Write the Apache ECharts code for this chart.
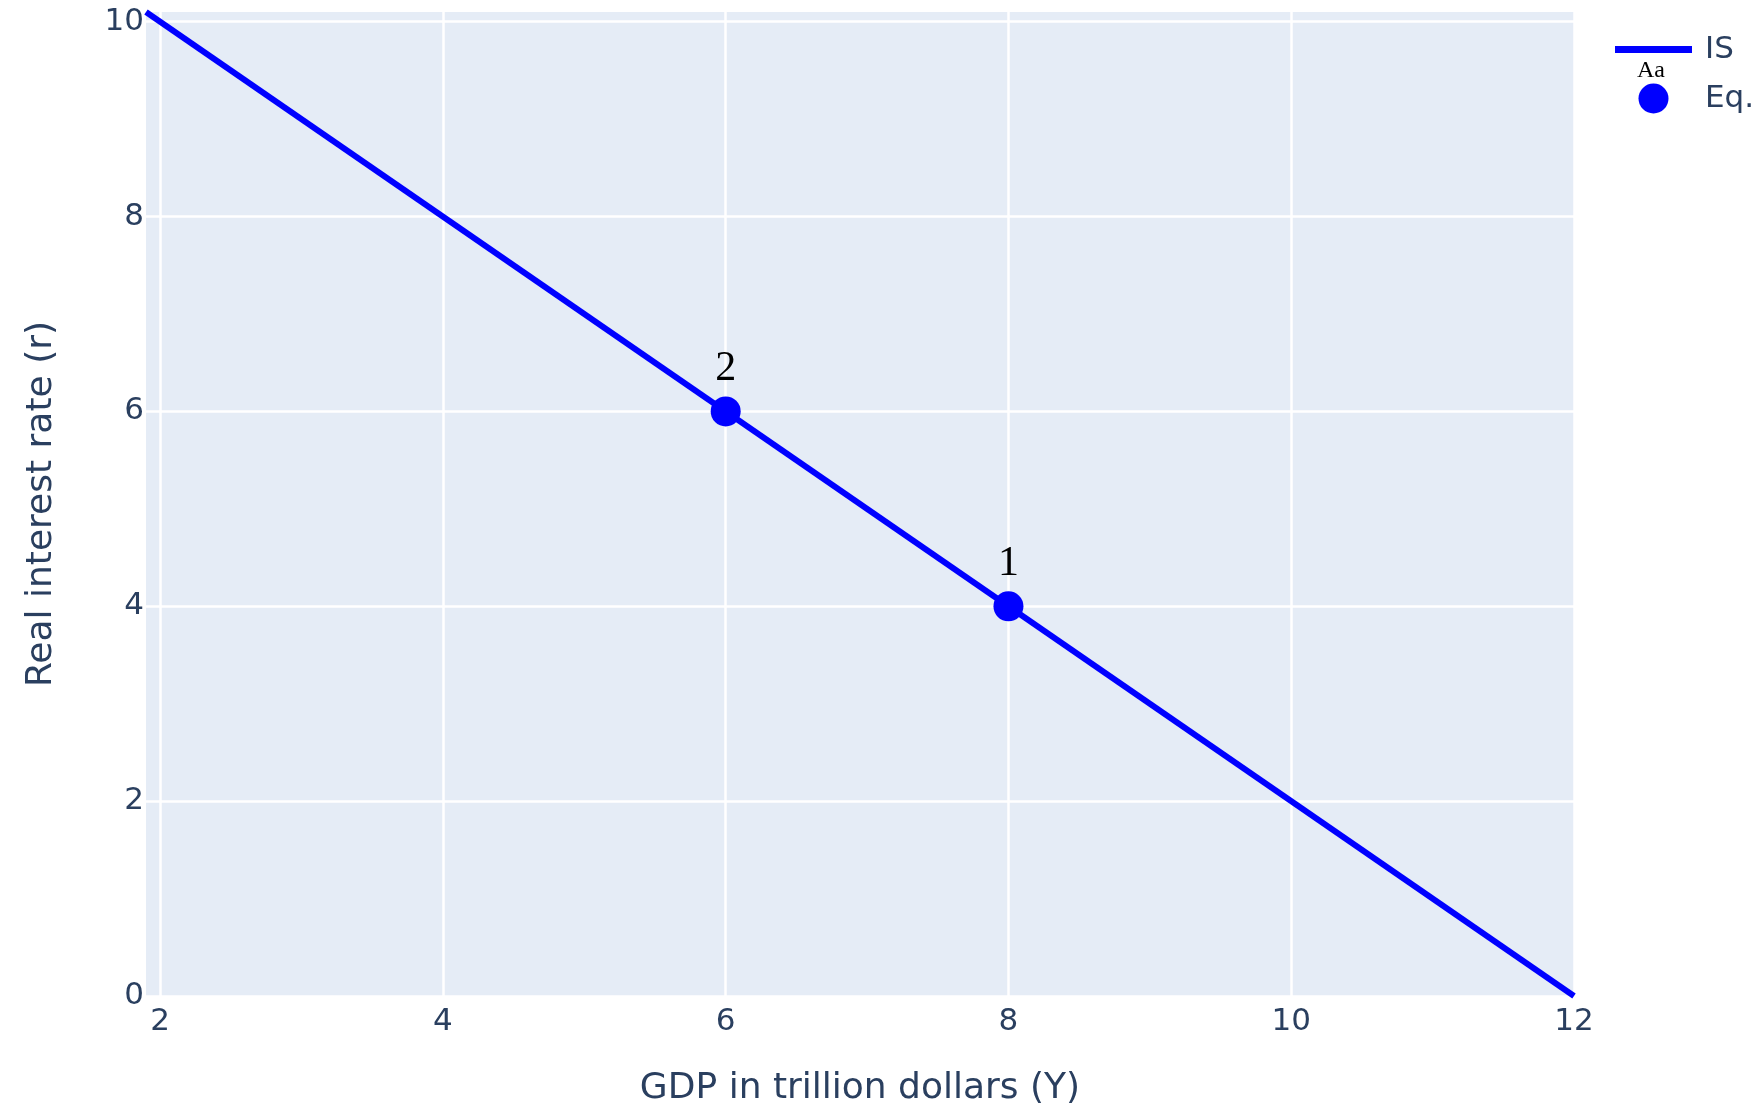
<!DOCTYPE html>
<html>
<head>
<meta charset="utf-8">
<script src="https://cdn.jsdelivr.net/npm/echarts@6/dist/echarts.min.js"></script>
<style>
  html, body { margin: 0; padding: 0; background: #fff; }
  #chart { width: 1761px; height: 1112px; }
</style>
</head>
<body>
<div id="chart"></div>
<script>
// IS curve end points
var isY = [1.9, 12];
var isR = [10.1, 0];

// equilibrium points
var eqY = [8, 6];
var eqR = [4, 6];
var eqLabels = ['1', '2'];

// tick labels
var xTicks = [2, 4, 6, 8, 10, 12];
var yTicks = [0, 2, 4, 6, 8, 10];

var textColor = '#2a3f5f';
var axisFont = 'DejaVu Sans';

var isData = [];
for (var i = 0; i < isY.length; i++) {
  isData.push([isY[i], isR[i]]);
}
var eqData = [];
for (var j = 0; j < eqY.length; j++) {
  eqData.push({ value: [eqY[j], eqR[j]], name: eqLabels[j] });
}

var myChart = echarts.init(document.getElementById('chart'));

var option = {
  backgroundColor: '#fff',
  animation: false,
  grid: {
    left: 146,
    right: 187,
    top: 12,
    bottom: 116,
    show: true,
    backgroundColor: '#E5ECF6',
    borderWidth: 0
  },
  legend: {
    left: 1615,
    top: 34,
    orient: 'vertical',
    padding: 0,
    itemWidth: 77,
    itemHeight: 30,
    itemGap: 18,
    textStyle: {
      fontFamily: axisFont,
      fontSize: 31,
      color: textColor,
      padding: [0, 0, 0, 8]
    },
    data: [
      { name: 'IS', icon: 'path://M0,0 L77,0 L77,7 L0,7 Z' },
      { name: 'Eq.', icon: 'circle' }
    ]
  },
  graphic: [{
    type: 'text',
    left: 1637,
    top: 59,
    style: {
      text: 'Aa',
      font: '24px "Liberation Serif"',
      fill: '#000'
    }
  }],
  xAxis: {
    type: 'value',
    min: 1.9,
    max: 12,
    name: 'GDP in trillion dollars (Y)',
    nameLocation: 'middle',
    nameGap: 75,
    nameTextStyle: { fontFamily: axisFont, fontSize: 36, color: textColor },
    axisLine: { show: false },
    axisTick: { show: false, customValues: xTicks },
    axisLabel: {
      customValues: xTicks,
      margin: 10,
      fontFamily: axisFont,
      fontSize: 31,
      color: textColor
    },
    splitLine: { show: true, lineStyle: { color: '#fff', width: 2.5 } }
  },
  yAxis: {
    type: 'value',
    min: 0,
    max: 10.1,
    name: 'Real interest rate (r)',
    nameLocation: 'middle',
    nameRotate: 90,
    nameGap: 86,
    nameTextStyle: { fontFamily: axisFont, fontSize: 36, color: textColor },
    axisLine: { show: false },
    axisTick: { show: false, customValues: yTicks },
    axisLabel: {
      customValues: yTicks,
      margin: 2,
      fontFamily: axisFont,
      fontSize: 31,
      color: textColor
    },
    splitLine: { show: true, lineStyle: { color: '#fff', width: 2.5 } }
  },
  series: [
    {
      name: 'IS',
      type: 'line',
      symbol: 'none',
      lineStyle: { color: '#0000ff', width: 6 },
      itemStyle: { color: '#0000ff' },
      data: isData,
      z: 2
    },
    {
      name: 'Eq.',
      type: 'scatter',
      symbol: 'circle',
      symbolSize: 30,
      itemStyle: { color: '#0000ff', opacity: 1 },
      label: {
        show: true,
        position: 'top',
        distance: 6,
        formatter: '{b}',
        fontFamily: 'Liberation Serif',
        fontSize: 42,
        color: '#000'
      },
      data: eqData,
      z: 3
    }
  ]
};
myChart.setOption(option);
</script>
</body>
</html>
